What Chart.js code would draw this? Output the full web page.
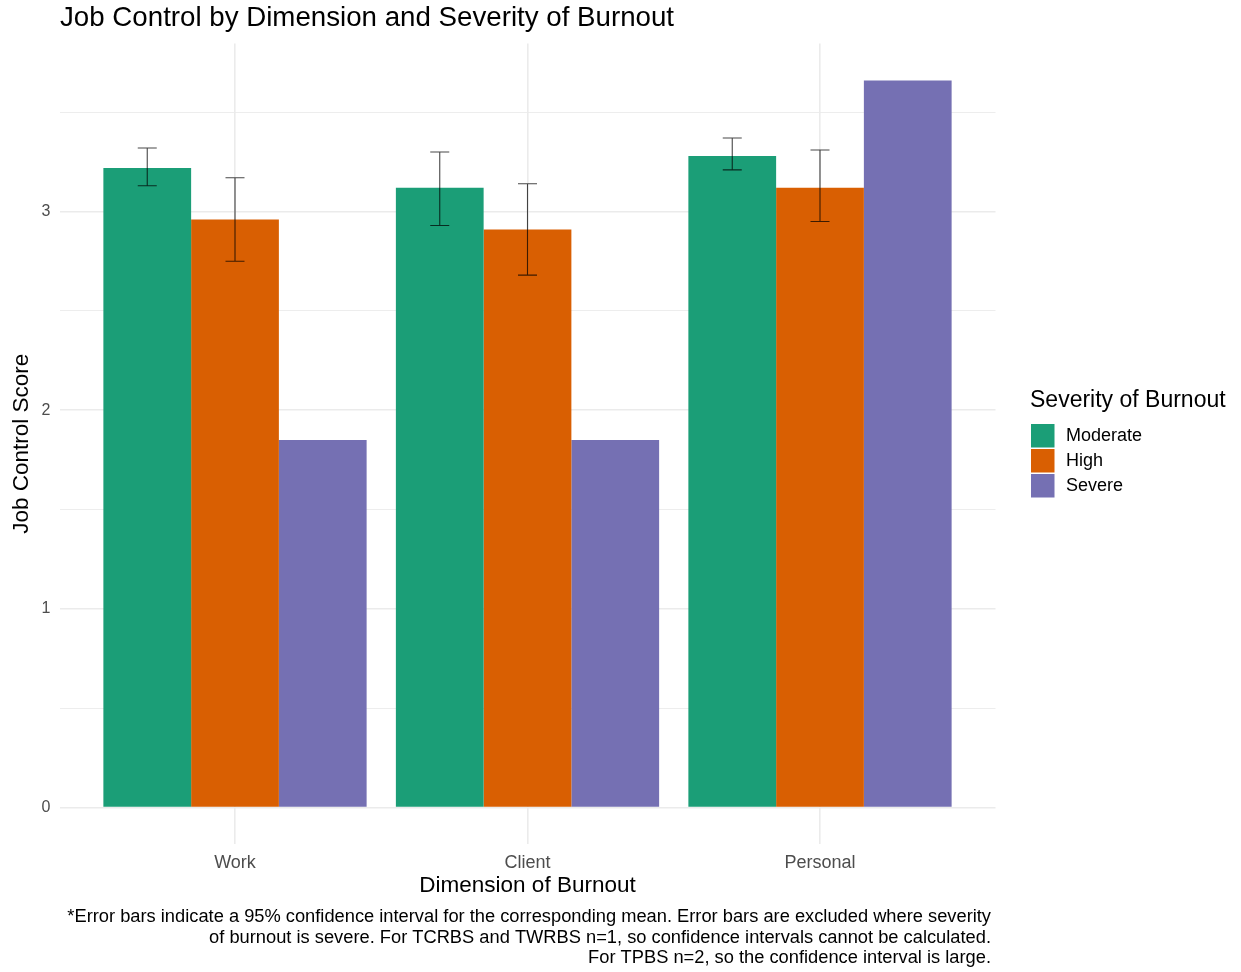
<!DOCTYPE html>
<html>
<head>
<meta charset="utf-8">
<script src="https://cdn.jsdelivr.net/npm/chart.js@4"></script>
<style>
  html, body { margin: 0; padding: 0; background: #ffffff; }
  #wrap { width: 1241px; height: 972px; }
</style>
</head>
<body>
<div id="wrap"><canvas id="c" width="1241" height="972"></canvas></div>
<script>
// Dimensions of burnout on the x axis
const categories = ['Work', 'Client', 'Personal'];
const severityLabels = ['Moderate', 'High', 'Severe'];

// Mean job control score per severity group
const moderate = [3.22, 3.12, 3.28];
const high     = [2.96, 2.91, 3.12];
const severe   = [1.85, 1.85, 3.66];

// 95% confidence interval bounds (none for the severe group)
const moderateLow  = [3.13, 2.93, 3.21];
const moderateHigh = [3.32, 3.30, 3.37];
const highLow      = [2.75, 2.68, 2.95];
const highHigh     = [3.17, 3.14, 3.31];

// Axis ticks
const yTickValues = [0, 0.5, 1, 1.5, 2, 2.5, 3, 3.5];
const yTickLabels = ['0', '', '1', '', '2', '', '3', ''];
const xTickValues = [1, 2, 3];

const colors = ['#1B9E77', '#D95F02', '#7570B3'];
const FONT = "'Liberation Sans', Arial, Helvetica, sans-serif";

const toPoints = arr => arr.map((v, i) => ({ x: i + 1, y: v }));

const errorBars = [
  { low: moderateLow, high: moderateHigh },
  { low: highLow, high: highHigh },
  null
];

// Draws the confidence-interval whiskers on top of the bars
const errorBarPlugin = {
  id: 'errorBars',
  afterDatasetsDraw(chart) {
    const ctx = chart.ctx;
    const yScale = chart.scales.y;
    ctx.save();
    ctx.strokeStyle = 'rgba(0,0,0,0.72)';
    ctx.lineWidth = 1.1;
    chart.data.datasets.forEach((ds, di) => {
      const eb = errorBars[di];
      if (!eb) return;
      const meta = chart.getDatasetMeta(di);
      meta.data.forEach((bar, i) => {
        const x = bar.x;
        const yLo = yScale.getPixelForValue(eb.low[i]);
        const yHi = yScale.getPixelForValue(eb.high[i]);
        const half = 9.5;
        ctx.beginPath();
        ctx.moveTo(x, yLo); ctx.lineTo(x, yHi);
        ctx.moveTo(x - half, yHi); ctx.lineTo(x + half, yHi);
        ctx.moveTo(x - half, yLo); ctx.lineTo(x + half, yLo);
        ctx.stroke();
      });
    });
    ctx.restore();
  }
};

// Titles, legend and footnote
const annotationPlugin = {
  id: 'annotations',
  afterDraw(chart) {
    const ctx = chart.ctx;
    const area = chart.chartArea;
    ctx.save();
    ctx.fillStyle = '#000000';
    ctx.textBaseline = 'middle';

    // Main title
    ctx.font = `27.7px ${FONT}`;
    ctx.textAlign = 'left';
    ctx.fillText('Job Control by Dimension and Severity of Burnout', 60, 18);

    // Axis titles
    ctx.font = `22.5px ${FONT}`;
    ctx.textAlign = 'center';
    ctx.fillText('Dimension of Burnout', (area.left + area.right) / 2, 886);
    ctx.save();
    ctx.translate(22, (area.top + area.bottom) / 2);
    ctx.rotate(-Math.PI / 2);
    ctx.fillText('Job Control Score', 0, 0);
    ctx.restore();

    // Legend
    ctx.textAlign = 'left';
    ctx.font = `23px ${FONT}`;
    ctx.fillText('Severity of Burnout', 1030, 401);
    ctx.font = `18px ${FONT}`;
    chart.data.datasets.forEach((ds, i) => {
      const y = 424 + i * 25;
      ctx.fillStyle = ds.backgroundColor;
      ctx.fillRect(1031, y, 23.5, 23.5);
      ctx.fillStyle = '#000000';
      ctx.fillText(ds.label, 1066, y + 12);
    });

    // Footnote
    ctx.font = `18.3px ${FONT}`;
    ctx.textAlign = 'right';
    const notes = [
      '*Error bars indicate a 95% confidence interval for the corresponding mean. Error bars are excluded where severity',
      'of burnout is severe. For TCRBS and TWRBS n=1, so confidence intervals cannot be calculated.',
      'For TPBS n=2, so the confidence interval is large.'
    ];
    notes.forEach((line, i) => ctx.fillText(line, 991, 917 + i * 20.5));
    ctx.restore();
  }
};

new Chart(document.getElementById('c'), {
  type: 'bar',
  data: {
    datasets: [
      { label: severityLabels[0], data: toPoints(moderate), backgroundColor: colors[0] },
      { label: severityLabels[1], data: toPoints(high), backgroundColor: colors[1] },
      { label: severityLabels[2], data: toPoints(severe), backgroundColor: colors[2] }
    ]
  },
  options: {
    responsive: false,
    animation: false,
    devicePixelRatio: 1,
    layout: { padding: { left: 0, right: 245.5, top: 43.5, bottom: 0 } },
    datasets: { bar: { categoryPercentage: 0.9, barPercentage: 1.0, borderWidth: 0 } },
    plugins: {
      legend: { display: false },
      title: { display: false },
      tooltip: { enabled: false }
    },
    scales: {
      x: {
        type: 'linear',
        min: 0.4,
        max: 3.6,
        offset: false,
        afterBuildTicks: s => { s.ticks = xTickValues.map(v => ({ value: v })); },
        afterFit: s => { s.height = 128; },
        border: { display: false },
        grid: { color: '#EBEBEB', lineWidth: 1.6, drawTicks: false, offset: false },
        ticks: {
          padding: 8,
          color: '#4D4D4D',
          font: { family: FONT, size: 18 },
          callback: v => categories[v - 1] ?? ''
        }
      },
      y: {
        type: 'linear',
        min: -0.183,
        max: 3.846,
        afterBuildTicks: s => { s.ticks = yTickValues.map(v => ({ value: v })); },
        afterFit: s => { s.width = 59.5; },
        border: { display: false },
        grid: {
          color: '#EBEBEB',
          lineWidth: c => (c.tick && Number.isInteger(c.tick.value)) ? 1.6 : 0.9,
          drawTicks: false
        },
        ticks: {
          padding: 9,
          color: '#4D4D4D',
          font: { family: FONT, size: 16 },
          callback: (v, i) => yTickLabels[yTickValues.indexOf(v)] ?? ''
        }
      }
    }
  },
  plugins: [errorBarPlugin, annotationPlugin]
});
</script>
</body>
</html>
